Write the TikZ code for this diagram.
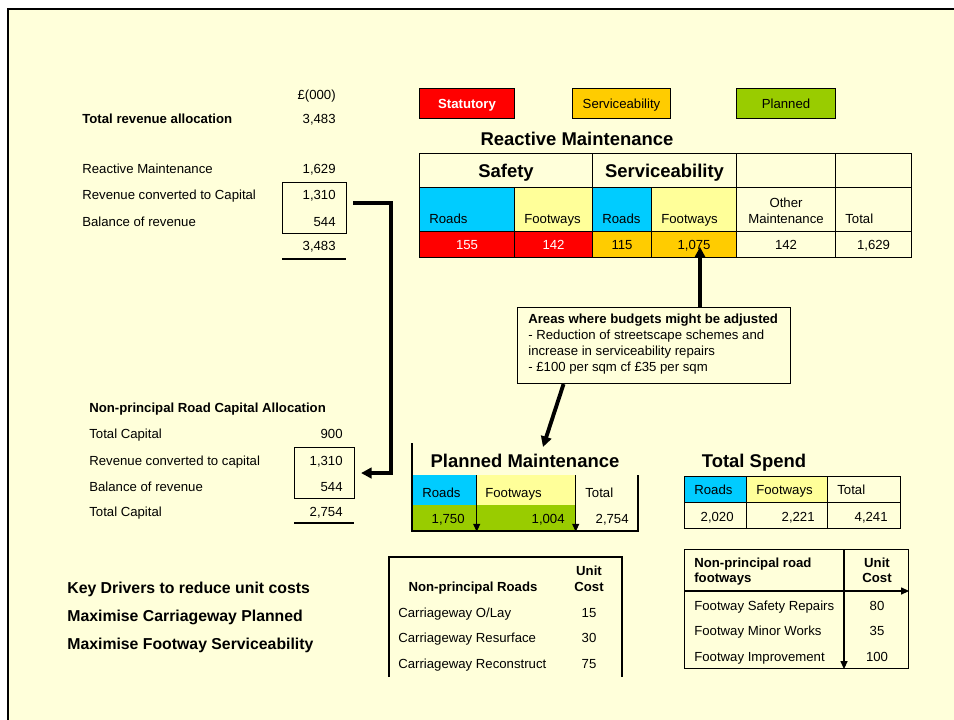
\documentclass[tikz,border=0pt]{standalone}
\usepackage{fontspec}
\setmainfont{Liberation Sans}
\usetikzlibrary{arrows.meta}

\definecolor{slide}{RGB}{255,255,218}
\definecolor{statred}{RGB}{255,0,0}
\definecolor{servgold}{RGB}{255,204,0}
\definecolor{plangreen}{RGB}{153,204,0}
\definecolor{roadcyan}{RGB}{0,204,255}
\definecolor{footyellow}{RGB}{255,255,153}

\begin{document}
\begin{tikzpicture}[x=0.02cm,y=-0.02cm,
    font=\fontsize{7.5}{9}\selectfont,
    lbl/.style={inner sep=0pt, anchor=west, text height=5.4pt, text depth=0pt},
    val/.style={inner sep=0pt, anchor=east, text height=5.4pt, text depth=0pt},
    mid/.style={inner sep=0pt, text height=5.4pt, text depth=0pt},
    bold/.style={font=\fontsize{7.5}{9}\selectfont\bfseries},
    big/.style={inner sep=0pt, text height=7.5pt, text depth=0pt, font=\fontsize{10.5}{12}\selectfont\bfseries},
    driver/.style={inner sep=0pt, anchor=west, text height=6.4pt, text depth=0pt, font=\fontsize{9}{11}\selectfont\bfseries},
    cellbox/.style 2 args={minimum width=#1*0.02cm, minimum height=#2*0.02cm, inner sep=0pt, anchor=north west, text height=5.4pt, text depth=0pt},
    rule/.style={line width=0.6pt},
    link/.style={line width=2.2pt, -{Triangle[length=6pt,width=6pt]}},
    divide/.style={line width=0.6pt, -{Triangle[length=4.5pt,width=4pt]}}]

    %slide
    \useasboundingbox (0,0) rectangle (954,720);
    \fill[white] (0,0) rectangle (954,720);
    \fill[slide] (8,9) rectangle (954,720);
    \draw[line width=1.7pt] (8,720) -- (8,9) -- (954,9);

    %revenue
    \node[val] (unit) at (336,95) {£(000)};
    \node[lbl, bold] (totrev) at (82,119) {Total revenue allocation};
    \node[val] (totrevv) at (336,119) {3,483};
    \foreach \t/\v/\y [count=\i] in {Reactive Maintenance/1{,}629/169, Revenue converted to Capital/1{,}310/195, Balance of revenue/544/222}{
        \node[lbl] (rev\i) at (82,\y) {\t};
        \node[val] (revv\i) at (336,\y) {\v};
    }
    \node[val] (revsum) at (336,246) {3,483};
    \node[draw, rule, cellbox={64}{51}] (revbox) at (282,182) {};
    \draw[line width=1.7pt] (282,259) -- (346,259);

    %capital
    \node[lbl, bold] (caph) at (89,408) {Non-principal Road Capital Allocation};
    \foreach \t/\v/\y [count=\i] in {Total Capital/900/434, Revenue converted to capital/1{,}310/461, Balance of revenue/544/487, Total Capital/2{,}754/512}{
        \node[lbl] (cap\i) at (89,\y) {\t};
        \node[val] (capv\i) at (343,\y) {\v};
    }
    \node[draw, rule, cellbox={60}{51}] (capbox) at (294,447) {};
    \draw[line width=1.7pt] (294,523) -- (354,523);
    \draw[link] ([xshift=0.12cm,yshift=0.1cm]revbox.east) -- ++(38,0) |- ([xshift=0.12cm]capbox.east);

    %drivers
    \node[driver] (kd1) at (67,588) {Key Drivers to reduce unit costs};
    \node[driver] (kd2) at (67,616) {Maximise Carriageway Planned};
    \node[driver] (kd3) at (67,644) {Maximise Footway Serviceability};

    %legend
    \node[draw, rule, fill=statred, cellbox={95}{30}, text=white, bold] (stat) at (419,88) {Statutory};
    \node[draw, rule, fill=servgold, cellbox={98}{30}] (serv) at (572,88) {Serviceability};
    \node[draw, rule, fill=plangreen, cellbox={99}{30}] (plan) at (736,88) {Planned};

    %reactive
    \node[big] (rtitle) at (577,139) {Reactive Maintenance};
    \node[draw, rule, cellbox={173}{34}, big] (safe) at (419,153) {Safety};
    \node[draw, rule, cellbox={144}{34}, big] (servh) at (592,153) {Serviceability};
    \node[draw, rule, cellbox={99}{34}] (othh) at (736,153) {};
    \node[draw, rule, cellbox={76}{34}] (toth) at (835,153) {};
    \foreach \x/\w/\c/\t [count=\i] in {419/95/roadcyan/Roads, 514/78/footyellow/Footways, 592/59/roadcyan/Roads, 651/85/footyellow/Footways, 835/76/slide/Total}{
        \node[draw, rule, fill=\c, cellbox={\w}{44}] (rh\i) at (\x,187) {};
        \node[lbl] (rt\i) at (\x+10,219) {\t};
    }
    \node[draw, rule, cellbox={99}{44}] (roth) at (736,187) {};
    \node[mid] (om1) at (786,203) {Other};
    \node[mid] (om2) at (786,219) {Maintenance};
    \foreach \x/\w/\c/\tc/\v [count=\i] in {419/95/statred/white/155, 514/78/statred/white/142, 592/59/servgold/black/115, 651/85/servgold/black/1{,}075, 736/99/slide/black/142, 835/76/slide/black/1{,}629}{
        \node[draw, rule, fill=\c, text=\tc, cellbox={\w}{26}] (rv\i) at (\x,231) {\v};
    }

    %callout
    \node[draw, rule, fill=slide, cellbox={273}{76}] (note) at (517,307) {};
    \node[inner sep=0pt, anchor=north west, align=left, font=\fontsize{7.5}{9.07}\selectfont] (notetext) at (528,314)
    {\textbf{Areas where budgets might be adjusted}\\- Reduction of streetscape schemes and\\increase in serviceability repairs\\- £100 per sqm cf £35 per sqm};
    \coordinate (adjtip) at (700,247);
    \draw[link] (adjtip |- note.north) -- (adjtip);
    \coordinate (plantip) at (543,447);
    \draw[link] ([xshift=-1.81cm]note.south) -- (plantip);

    %planned
    \node[big] (ptitle) at (525,461) {Planned Maintenance};
    \node[fill=roadcyan, cellbox={64}{30}] (pr) at (412,475) {};
    \node[fill=footyellow, cellbox={99}{30}] (pf) at (476,475) {};
    \node[fill=plangreen, cellbox={163}{26}] (pv) at (412,505) {};
    \draw[rule] (412,443) |- (638,531) -- (638,475);
    \draw[divide] (pr.north east) -- (pv.south -| pr.east);
    \draw[divide] (pf.north east) -- (pv.south east);
    \node[lbl] (prt) at (422,493) {Roads};
    \node[lbl] (pft) at (485,493) {Footways};
    \node[lbl] (ptt) at (585,493) {Total};
    \node[val] (prv) at (465,519) {1,750};
    \node[val] (pfv) at (565,519) {1,004};
    \node[val] (ptv) at (629,519) {2,754};

    %total spend
    \node[big] (stitle) at (754,461) {Total Spend};
    \foreach \x/\w/\c/\t/\v [count=\i] in {684/62/roadcyan/Roads/2{,}020, 746/81/footyellow/Footways/2{,}221, 827/73/slide/Total/4{,}241}{
        \node[draw, rule, fill=\c, cellbox={\w}{26}] (sh\i) at (\x,476) {};
        \node[draw, rule, cellbox={\w}{26}] (sv\i) at (\x,502) {};
        \node[lbl] (st\i) at (\x+10,490) {\t};
        \node[val] (sn\i) at (\x+\w-12,517) {\v};
    }

    %unit costs roads
    \draw[rule] (389,677) |- (622,557) -- (622,677);
    \node[mid, bold] (nprh) at (473,587) {Non-principal Roads};
    \node[mid, bold] (npru) at (589,571) {Unit};
    \node[mid, bold] (nprc) at (589,587) {Cost};
    \foreach \t/\v/\y [count=\i] in {{Carriageway O/Lay}/15/613, Carriageway Resurface/30/638, Carriageway Reconstruct/75/664}{
        \node[lbl] (cw\i) at (398,\y) {\t};
        \node[mid] (cwv\i) at (589,\y) {\v};
    }

    %unit costs footways
    \node[draw, rule, cellbox={224}{119}] (fw) at (684,549) {};
    \draw[divide] (fw.west |- 0,591) -- (fw.east |- 0,591);
    \draw[divide] (fw.north -| 844,0) -- (fw.south -| 844,0);
    \node[lbl, bold] (fwh1) at (694,563) {Non-principal road};
    \node[lbl, bold] (fwh2) at (694,578) {footways};
    \node[mid, bold] (fwu) at (877,563) {Unit};
    \node[mid, bold] (fwc) at (877,578) {Cost};
    \foreach \t/\v/\y [count=\i] in {Footway Safety Repairs/80/606, Footway Minor Works/35/631, Footway Improvement/100/657}{
        \node[lbl] (fwr\i) at (694,\y) {\t};
        \node[mid] (fwv\i) at (877,\y) {\v};
    }

\end{tikzpicture}
\end{document}
